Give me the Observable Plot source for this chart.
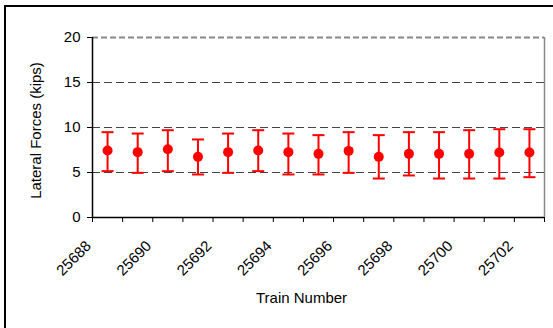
<!DOCTYPE html>
<html>
<head>
<meta charset="utf-8">
<script src="https://cdn.jsdelivr.net/npm/d3@7"></script>
<script src="https://cdn.jsdelivr.net/npm/@observablehq/plot@0.6"></script>
<style>
  html, body { margin: 0; padding: 0; background: #fff; }
  svg { display: block; }
</style>
</head>
<body>
<div id="chart"></div>
<script>
const trains = [25688, 25689, 25690, 25691, 25692, 25693, 25694, 25695, 25696, 25697, 25698, 25699, 25700, 25701, 25702];
const means  = [7.44, 7.26, 7.59, 6.74, 7.26, 7.44, 7.26, 7.07, 7.40, 6.74, 7.07, 7.07, 7.07, 7.22, 7.22];
const uppers = [9.48, 9.33, 9.70, 8.67, 9.33, 9.70, 9.33, 9.15, 9.48, 9.15, 9.48, 9.48, 9.70, 9.81, 9.81];
const lowers = [5.15, 4.96, 5.15, 4.78, 4.96, 5.15, 4.78, 4.78, 4.96, 4.33, 4.67, 4.33, 4.33, 4.33, 4.48];
const yTicks = [0, 5, 10, 15, 20];
const yLabel = "Lateral Forces (kips)";
const xLabel = "Train Number";

const data = trains.map((t, i) => ({train: t, pos: i + 0.5, mean: means[i], hi: uppers[i], lo: lowers[i]}));
const labelled = data.filter((d, i) => i % 2 === 0);
const capSymbol = {draw(ctx) { ctx.moveTo(-6, 0); ctx.lineTo(6, 0); }};
const font = "Liberation Sans, Arial, sans-serif";

const chart = Plot.plot({
  width: 553,
  height: 328,
  marginLeft: 92,
  marginRight: 9,
  marginTop: 37,
  marginBottom: 111,
  style: {fontFamily: font, fontSize: "15px", background: "#fff", overflow: "visible"},
  x: {type: "linear", domain: [0, trains.length], axis: null},
  y: {domain: [0, 20], axis: null},
  marks: [
    Plot.ruleY(yTicks.filter(v => v > 0 && v < 20), {stroke: "#444", strokeWidth: 1, strokeDasharray: "8,4"}),
    Plot.ruleY([20], {stroke: "#888", strokeWidth: 2, strokeDasharray: "6,3"}),
    Plot.ruleX([trains.length], {stroke: "#888", strokeWidth: 1.5}),
    Plot.ruleX([0], {stroke: "#000", strokeWidth: 1.5}),
    Plot.ruleY([0], {stroke: "#000", strokeWidth: 1.5}),
    Plot.axisY({ticks: yTicks, tickSize: 5, tickPadding: 7, label: null, fontSize: 15, stroke: "#000"}),
    Plot.axisX({ticks: d3.range(trains.length + 1), tickSize: 5, tickFormat: () => "", label: null}),
    Plot.text(labelled, {x: "pos", text: d => String(d.train), frameAnchor: "bottom", rotate: -45, textAnchor: "end", lineAnchor: "middle", dx: -19, dy: 26, fontSize: 15, fill: "#000"}),
    Plot.ruleX(data, {x: "pos", y1: "lo", y2: "hi", stroke: "#ff0000", strokeWidth: 2}),
    Plot.dot(data, {x: "pos", y: "hi", symbol: capSymbol, stroke: "#ff0000", strokeWidth: 2, r: 6}),
    Plot.dot(data, {x: "pos", y: "lo", symbol: capSymbol, stroke: "#ff0000", strokeWidth: 2, r: 6}),
    Plot.dot(data, {x: "pos", y: "mean", r: 5, fill: "#ff0000", stroke: "none"}),
    Plot.text([yLabel], {frameAnchor: "left", rotate: -90, textAnchor: "middle", dx: -56, dy: 3, fontSize: 15, fill: "#000"}),
    Plot.text([xLabel], {frameAnchor: "bottom", dx: -17, dy: 85, fontSize: 15, fill: "#000"})
  ]
});

const svg = d3.select(chart);
svg.append("rect").attr("x", 5).attr("y", 6).attr("width", 700).attr("height", 500)
  .attr("fill", "none").attr("stroke", "#000").attr("stroke-width", 2);
document.getElementById("chart").appendChild(chart);
</script>
</body>
</html>
